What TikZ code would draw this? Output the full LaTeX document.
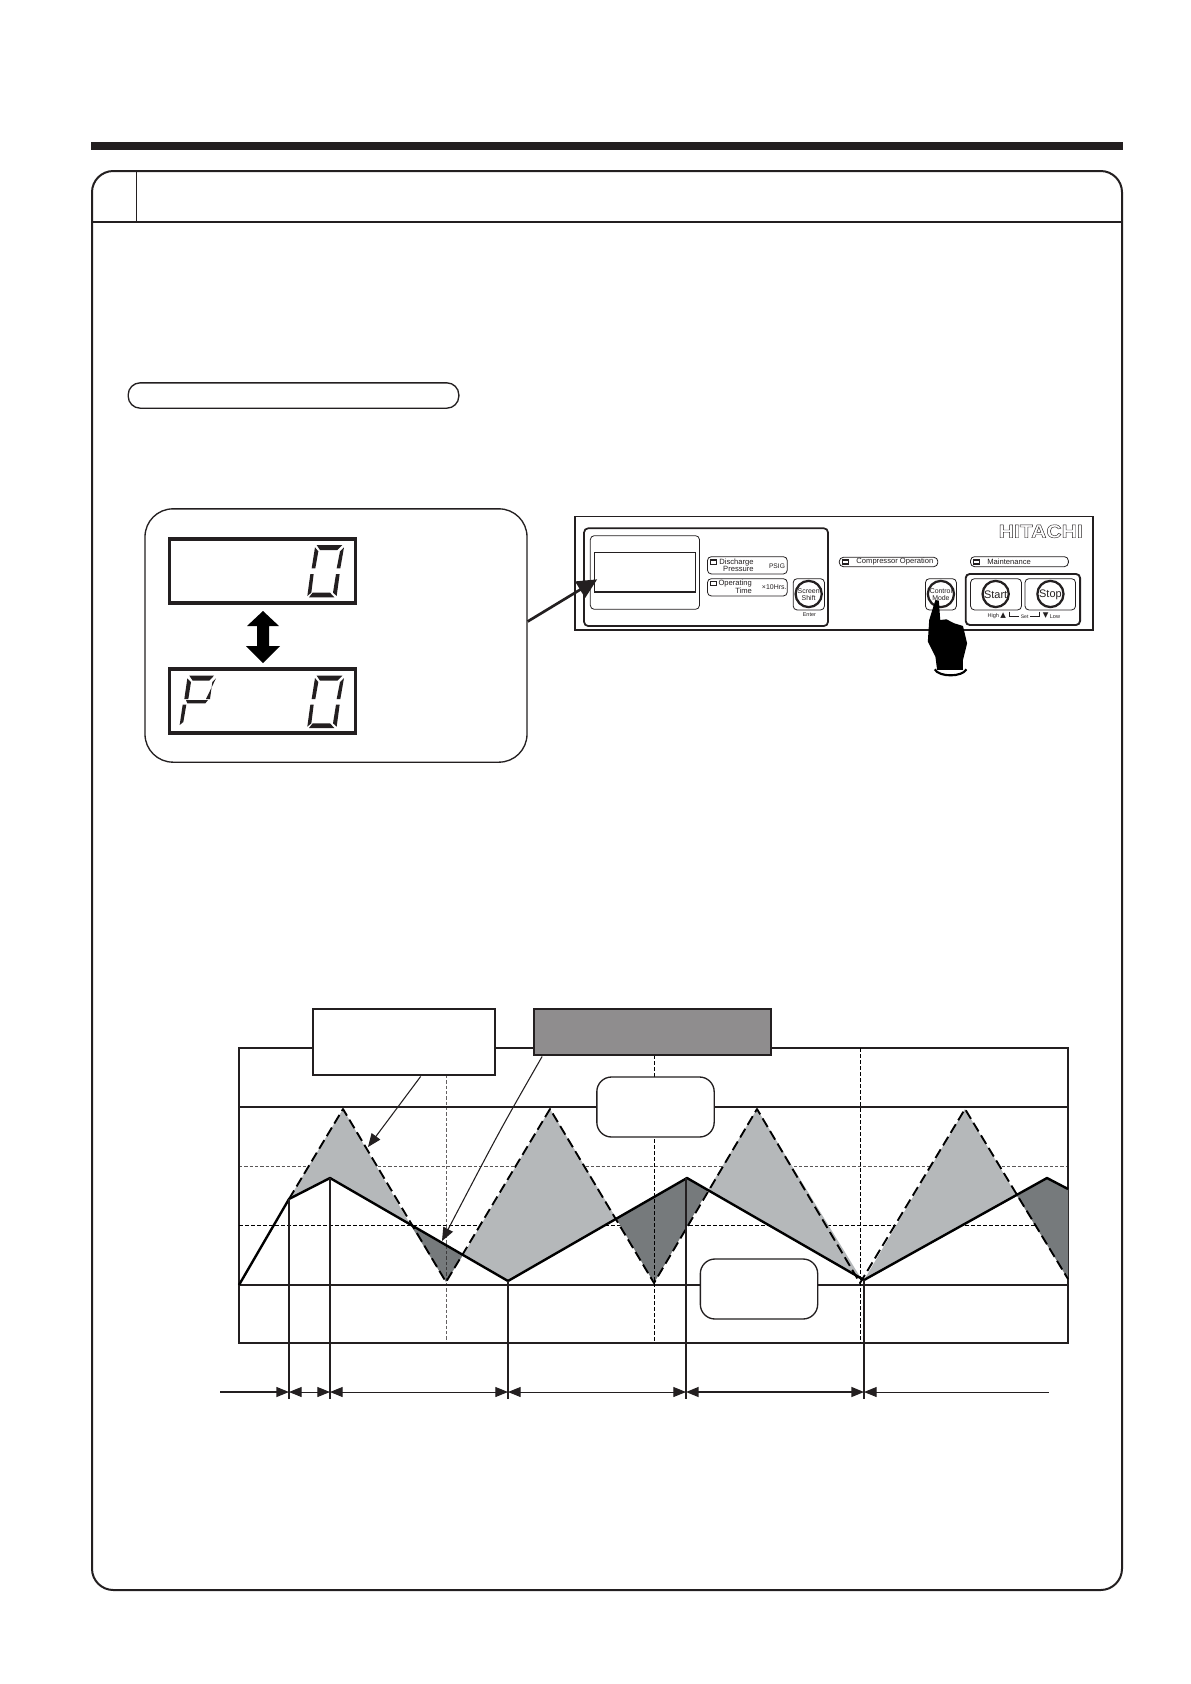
\documentclass[tikz,border=0pt]{standalone}
\usepackage{fontspec}
\usepackage{graphicx}
\setmainfont{Liberation Sans}
\newfontfamily\symf{DejaVu Sans}
\usetikzlibrary{arrows.meta,calc}
\definecolor{ink}{HTML}{231F20}
\definecolor{lightfill}{HTML}{B5B8BA}
\definecolor{darkfill}{HTML}{767A7C}
\definecolor{graybox}{HTML}{8F8D8E}
\newcommand\ptxt[4]{\node[inner sep=0pt,align=center,text=ink,font=\fontsize{#3}{#3}\selectfont] (#1) at (#2) {#4};}
\newcommand\rtxt[4]{\node[inner sep=0pt,anchor=east,text=ink,font=\fontsize{#3}{#3}\selectfont] (#1) at (#2) {#4};}
\newcommand\digitzero{%
 \fill[ink] (560,165)--(637,165)--(622,180)--(570,180)--cycle;
 \fill[ink] (555,172)--(565,184)--(556,235)--(545,235)--cycle;
 \fill[ink] (642,172)--(630,184)--(620,235)--(631,235)--cycle;
 \fill[ink] (541,252)--(551,252)--(544,308)--(532,318)--cycle;
 \fill[ink] (618,252)--(629,252)--(620,318)--(609,308)--cycle;
 \fill[ink] (548,308)--(600,308)--(613,322)--(537,322)--cycle;}
\newcommand\letterP{%
 \fill[ink] (178,557)--(252,557)--(238,572)--(188,572)--cycle;
 \fill[ink] (172,565)--(183,576)--(175,627)--(163,627)--cycle;
 \fill[ink] (258,565)--(247,576)--(240,627)--(228,627)--cycle;
 \fill[ink] (168,630)--(234,630)--(226,640)--(172,640)--cycle;
 \fill[ink] (158,644)--(169,644)--(160,696)--(149,705)--cycle;}
\tikzset{
 x=0.75pt,y=-0.75pt,
 lcdbox/.style={draw=ink,line width=2.4pt,fill=white,minimum width=139pt,minimum height=48pt,inner sep=0pt},
 softbox/.style={draw=ink,line width=1pt,rounded corners=11pt,fill=white,inner sep=0pt,minimum width=88pt,minimum height=45pt},
 callout/.style={draw=ink,line width=2.2pt,inner sep=0pt},
 thin dim/.style={draw=ink,line width=0.7pt,{Triangle[length=9.5pt,width=7.5pt]}-{Triangle[length=9.5pt,width=7.5pt]}},
 ext/.style={draw=ink,line width=0.8pt},
 wave/.style={draw=black,line width=1.8pt,line join=round},
 dashwave/.style={draw=black,line width=1.4pt,dash pattern=on 7.5pt off 3.5pt,line join=round},
 panelthin/.style={draw=ink,line width=0.6pt,rounded corners=3pt},
 led/.style={draw=ink,line width=1pt,fill=white},
 btn/.style={draw=ink,line width=1.7pt,fill=white},
}
\begin{document}
\begin{tikzpicture}
\useasboundingbox (0,0) rectangle (1191,1684);
\fill[white] (0,0) rectangle (1191,1684);
% page furniture
\fill[ink] (91,142) rectangle (1123,150);
\draw[ink,line width=1.5pt,rounded corners=16pt] (92,171) rectangle (1122,1590);
\draw[ink,line width=1.5pt] (92,222) -- (1122,222);
\draw[ink,line width=0.9pt] (136.5,171) -- (136.5,222);
\node[draw=ink,line width=1pt,rounded corners=9pt,minimum width=248pt,minimum height=19pt,inner sep=0pt] (pill) at (293.5,395.5) {};
% display call-out
\node[draw=ink,line width=1pt,rounded corners=21pt,minimum width=286.5pt,minimum height=190pt,inner sep=0pt,fill=white] (callbox) at (336,635.5) {};
\node[lcdbox] (lcdone) at (262.5,571) {};
\node[lcdbox] (lcdtwo) at (262.5,701) {};
\fill[black] (263,611)--(279,626)--(269,626)--(269,646)--(280,646)--(263,663)--(246,646)--(257,646)--(257,626)--(247,626)--cycle;
\begin{scope}[shift={(130,490)},scale=1/3]
 \digitzero
 \begin{scope}[shift={(0,392)}]\digitzero\end{scope}
 \letterP
\end{scope}
% control panel
\begin{scope}[shift={(560,500)},xscale=0.3444,yscale=0.3333]
 \draw[ink,line width=1.1pt] (43,50) rectangle (1547,390);
 \draw[ink,line width=1.3pt,rounded corners=3pt] (70,85) rectangle (778,378);
 \draw[panelthin] (88,107) rectangle (405,328);
 \coordinate (lcdin) at (108,238);
 \node[draw=ink,line width=1.1pt,inner sep=0pt,minimum width=75.5pt,minimum height=29.5pt] (panellcd) at (246.5,217) {};
 \draw[panelthin] (428,170) rectangle (660,222);
 \draw[led] (437,180) rectangle (455,193);
 \rtxt{dpa}{563,187}{5.7pt}{Discharge}
 \rtxt{dpb}{563,208}{5.7pt}{Pressure}
 \ptxt{psig}{630,199}{5pt}{PSIG}
 \draw[panelthin] (428,236) rectangle (660,288);
 \draw[led] (437,244) rectangle (455,257);
 \rtxt{ota}{558,252}{5.7pt}{Operating}
 \rtxt{otb}{558,273}{5.7pt}{Time}
 \ptxt{hrs}{622,262}{5.2pt}{×10Hrs.}
 \draw[panelthin] (677,236) rectangle (768,330);
 \draw[btn] (722,282) ellipse [x radius=38,y radius=39.3];
 \ptxt{ss}{722,283}{5.2pt}{Screen\\Shift}
 \ptxt{en}{724,345}{4.1pt}{Enter}
 \draw[panelthin] (811,172) rectangle (1097,200);
 \draw[led] (820,180) rectangle (838,192);
 \node[inner sep=0pt,anchor=west,text=ink,font=\fontsize{5.7pt}{5.7pt}\selectfont] (co) at (860,186) {Compressor Operation};
 \draw[panelthin] (1192,170) rectangle (1476,200);
 \draw[led] (1200,180) rectangle (1218,192);
 \node[inner sep=0pt,anchor=west,text=ink,font=\fontsize{5.7pt}{5.7pt}\selectfont] (mt) at (1240,186) {Maintenance};
 \draw[panelthin] (1061,236) rectangle (1151,330);
 \draw[btn] (1106,282) ellipse [x radius=38,y radius=39.3];
 \ptxt{cm}{1106,283}{5.2pt}{Control\\Mode}
 \draw[ink,line width=1.4pt,rounded corners=3pt] (1178,222) rectangle (1510,375);
 \draw[panelthin] (1192,236) rectangle (1340,330);
 \draw[btn] (1265,282) ellipse [x radius=38,y radius=39.3];
 \ptxt{st}{1265,283}{8.2pt}{Start}
 \draw[panelthin] (1350,236) rectangle (1497,330);
 \draw[btn] (1424,282) ellipse [x radius=38,y radius=39.3];
 \ptxt{sp}{1424,283}{8.2pt}{Stop}
 \ptxt{hi}{1258,349}{4.2pt}{High}
 \ptxt{upm}{1287,347}{5.5pt}{{\symf ▲}}
 \ptxt{setl}{1349,351}{3.8pt}{Set}
 \ptxt{dnm}{1410,347}{5.5pt}{{\symf ▼}}
 \ptxt{lo}{1437,349}{4.2pt}{Low}
 \coordinate (brA) at (1306,335); \coordinate (brB) at (1392,335);
 \draw[ink,line width=0.7pt] (brA) |- (1333,350);
 \draw[ink,line width=0.7pt] (brB) |- (1365,350);
 \node[inner sep=0pt,text=ink,font=\bfseries\fontsize{14pt}{14pt}\selectfont] (logo) at (1396,94) {\scalebox{1.13}[1]{\special{pdf:code 1 Tr 0.3 w}HITACHI\special{pdf:code 0 Tr}}};
 % hand
 \fill[black] (1090,300)--(1100,302)--(1104,360)--(1122,358)--(1145,370)--(1170,378)--(1182,430)--(1170,480)--(1170,510)--(1095,510)--(1090,470)--(1068,425)--(1072,360)--cycle;
 \draw[black,line width=1.6pt] (1088,508) .. controls (1100,532) and (1168,532) .. (1180,508);
\end{scope}
\coordinate (callexit) at ($(callbox.north east)!0.445!(callbox.south east)$);
\draw[ink,line width=2pt,-{Triangle[length=15pt,width=14pt]}] (callexit) -- (lcdin);
% chart
\draw[ink,line width=1.4pt] (239,1048) rectangle (1068,1343);
\draw[ink,line width=1.4pt] (239,1107) -- (1068,1107);
\draw[ink,line width=0.6pt,dash pattern=on 2.5pt off 1.5pt,opacity=.75] (239,1166) -- (1068,1166);
\draw[black,line width=0.7pt,dash pattern=on 3pt off 1.5pt] (239,1225) -- (1068,1225);
\draw[ink,line width=1.4pt] (239,1285) -- (1068,1285);
\fill[lightfill] (289,1199)--(343,1109)--(410,1224)--(330,1178)--cycle;
\fill[darkfill] (410,1224)--(446,1282)--(463,1255)--cycle;
\fill[lightfill] (463,1255)--(550,1109)--(616,1218)--(508,1281)--cycle;
\fill[darkfill] (616,1218)--(654,1283)--(708,1190)--(687,1178)--cycle;
\fill[lightfill] (708,1190)--(757,1109)--(862,1280)--cycle;
\fill[lightfill] (864,1280)--(965,1109)--(1017,1196)--cycle;
\fill[darkfill] (1017,1196)--(1047,1178)--(1068,1189)--(1068,1279)--cycle;
\draw[ink,line width=0.6pt,dash pattern=on 2.5pt off 1.5pt,opacity=.7] (446.5,1075) -- (446.5,1343);
\draw[black,line width=0.7pt,dash pattern=on 3pt off 1.5pt] (654,1055) -- (654,1343);
\draw[black,line width=0.7pt,dash pattern=on 3pt off 1.5pt] (860.5,1048) -- (860.5,1343);
\draw[dashwave] (289,1199)--(343,1109)--(446,1282)--(550,1109)--(654,1283)--(757,1109)--(860,1283)--(965,1109)--(1068,1279);
\draw[wave] (239,1285)--(289,1199)--(330,1178)--(508,1281)--(687,1178)--(864,1280)--(1047,1178)--(1068,1189);
% extension lines and spans
\coordinate (eA) at (289,1199); \coordinate (eB) at (330,1178); \coordinate (eC) at (508,1281); \coordinate (eD) at (686,1178); \coordinate (eE) at (864,1280);
\coordinate (fA) at (289,1399); \coordinate (fB) at (330,1399); \coordinate (fC) at (508,1399); \coordinate (fD) at (686,1399); \coordinate (fE) at (864,1399);
\draw[ext,line width=1.1pt] (eA) -- (fA);
\draw[ext] (eB) -- (fB);
\draw[ext,line width=1.1pt] (eC) -- (fC);
\draw[ext] (eD) -- (fD);
\draw[ext] (eE) -- (fE);
\coordinate (dA) at (289,1392); \coordinate (dB) at (330,1392); \coordinate (dC) at (508,1392); \coordinate (dD) at (686,1392); \coordinate (dE) at (864,1392);
\coordinate (dS) at (220,1392); \coordinate (dZ) at (1049,1392);
\draw[ink,line width=1pt,-{Triangle[length=9.5pt,width=7.5pt]}] (dS) -- (dA);
\draw[thin dim] (dA) -- (dB);
\draw[thin dim] (dB) -- (dC);
\draw[thin dim] (dC) -- (dD);
\draw[thin dim,line width=1.1pt] (dD) -- (dE);
\draw[ink,line width=0.7pt,{Triangle[length=9.5pt,width=7.5pt]}-] (dE) -- (dZ);
% labels on the chart
\node[softbox] (limithi) at (655.5,1107) {};
\node[softbox] (limitlo) at (759,1289) {};
\node[callout,fill=white,minimum width=136.5pt,minimum height=49.5pt] (whitebox) at (404,1042) {};
\node[callout,fill=graybox,minimum width=177.75pt,minimum height=34.5pt] (greybox) at (652.5,1032) {};
\coordinate (wTip) at (368,1147);
\coordinate (gTip) at (442,1241);
\coordinate (wStart) at ($(whitebox.south west)!0.59!(whitebox.south east)$);
\coordinate (gStart) at ($(greybox.south west)!0.04!(greybox.south east)$);
\draw[ink,line width=0.8pt,-{Triangle[length=10pt,width=8pt]}] (wStart) -- (wTip);
\draw[ink,line width=0.8pt,-{Triangle[length=10pt,width=8pt]}] (gStart) .. controls (500,1130) .. (gTip);
\end{tikzpicture}
\end{document}
